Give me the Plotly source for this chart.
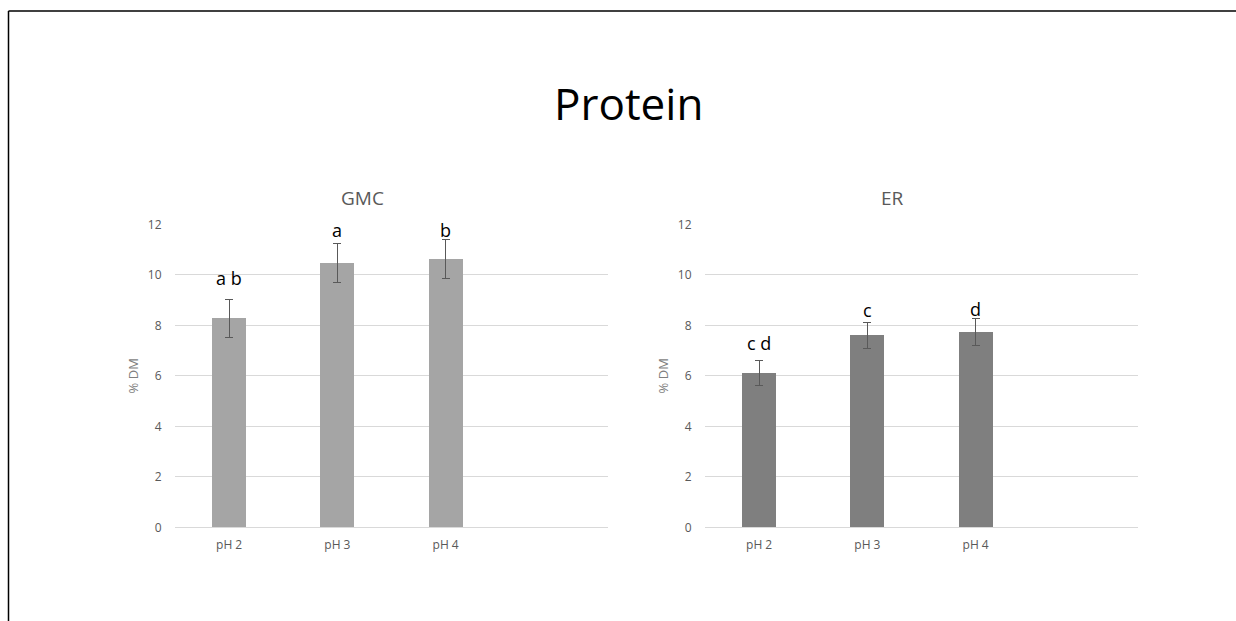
import plotly.graph_objects as go

# Protein content (% dry matter) by extraction pH
categories = ["pH 2", "pH 3", "pH 4"]
gmc_values = [8.28, 10.47, 10.63]
gmc_errors = [0.75, 0.76, 0.76]
er_values = [6.10, 7.60, 7.73]
er_errors = [0.50, 0.51, 0.52]

# significance letters and the height at which each is written
gmc_letters = ["a b", "a", "b"]
gmc_letter_y = [9.88, 11.78, 11.78]
er_letters = ["c d", "c", "d"]
er_letter_y = [7.29, 8.60, 8.63]

W, H = 1236, 621
FONT = "Open Sans"
TICK_GRAY = "#595959"
GRID = "#D9D9D9"


def px_x(v):
    return v / W


def px_y(v):
    return 1 - v / H


xpos = list(range(len(categories)))

fig = go.Figure()
fig.add_trace(go.Bar(
    x=xpos, y=gmc_values, width=0.315, marker=dict(color="#A5A5A5", line=dict(width=0)),
    error_y=dict(type="data", array=gmc_errors, visible=True, color="#595959", thickness=1, width=4),
    xaxis="x", yaxis="y", showlegend=False, cliponaxis=False,
))
fig.add_trace(go.Bar(
    x=xpos, y=er_values, width=0.315, marker=dict(color="#7F7F7F", line=dict(width=0)),
    error_y=dict(type="data", array=er_errors, visible=True, color="#595959", thickness=1, width=4),
    xaxis="x2", yaxis="y2", showlegend=False, cliponaxis=False,
))

xcommon = dict(
    range=[-0.5, 3.5], tickmode="array", tickvals=xpos, ticktext=categories,
    showgrid=False, zeroline=False, showline=False, automargin=False,
    ticks="outside", ticklen=6, tickcolor="rgba(0,0,0,0)",
    tickfont=dict(family=FONT, size=12, color=TICK_GRAY),
)
ycommon = dict(
    range=[0, 12], dtick=2, showgrid=True, gridcolor=GRID, gridwidth=1,
    zeroline=True, zerolinecolor=GRID, zerolinewidth=1, showline=False, automargin=False,
    ticks="outside", ticklen=10, tickcolor="rgba(0,0,0,0)",
    tickfont=dict(family=FONT, size=12, color=TICK_GRAY),
    title=dict(text="% DM", font=dict(family=FONT, size=13, color="#7F7F7F"), standoff=6),
)

fig.update_layout(
    width=W, height=H,
    margin=dict(l=0, r=0, t=0, b=0, pad=0, autoexpand=False),
    paper_bgcolor="white", plot_bgcolor="white",
    xaxis=dict(domain=[px_x(175), px_x(608)], anchor="y", **xcommon),
    yaxis=dict(domain=[px_y(527.3), px_y(224.3)], anchor="x", **ycommon),
    xaxis2=dict(domain=[px_x(705), px_x(1138)], anchor="y2", **xcommon),
    yaxis2=dict(domain=[px_y(527.3), px_y(224.3)], anchor="x2", **ycommon),
    bargap=0,
)

annotations = [
    dict(text="Protein", x=px_x(628), y=px_y(103), xref="paper", yref="paper",
         showarrow=False, font=dict(family=FONT, size=44, color="black"),
         xanchor="center", yanchor="middle"),
    dict(text="GMC", x=px_x(362), y=px_y(198), xref="paper", yref="paper",
         showarrow=False, font=dict(family=FONT, size=19, color=TICK_GRAY),
         xanchor="center", yanchor="middle"),
    dict(text="ER", x=px_x(892), y=px_y(198), xref="paper", yref="paper",
         showarrow=False, font=dict(family=FONT, size=19, color=TICK_GRAY),
         xanchor="center", yanchor="middle"),
]
for xi, lab, ly in zip(xpos, gmc_letters, gmc_letter_y):
    annotations.append(dict(text=lab, x=xi, y=ly, xref="x", yref="y", showarrow=False,
                            font=dict(family=FONT, size=18, color="black"),
                            xanchor="center", yanchor="middle"))
for xi, lab, ly in zip(xpos, er_letters, er_letter_y):
    annotations.append(dict(text=lab, x=xi, y=ly, xref="x2", yref="y2", showarrow=False,
                            font=dict(family=FONT, size=18, color="black"),
                            xanchor="center", yanchor="middle"))
fig.update_layout(annotations=annotations)

# frame lines along the top and left edges
fig.add_shape(type="line", xref="paper", yref="paper",
              x0=px_x(8.5), x1=1, y0=px_y(11), y1=px_y(11),
              line=dict(color="black", width=1.5))
fig.add_shape(type="line", xref="paper", yref="paper",
              x0=px_x(8.5), x1=px_x(8.5), y0=0, y1=px_y(11),
              line=dict(color="black", width=1.5))

fig.write_html("out.html")
